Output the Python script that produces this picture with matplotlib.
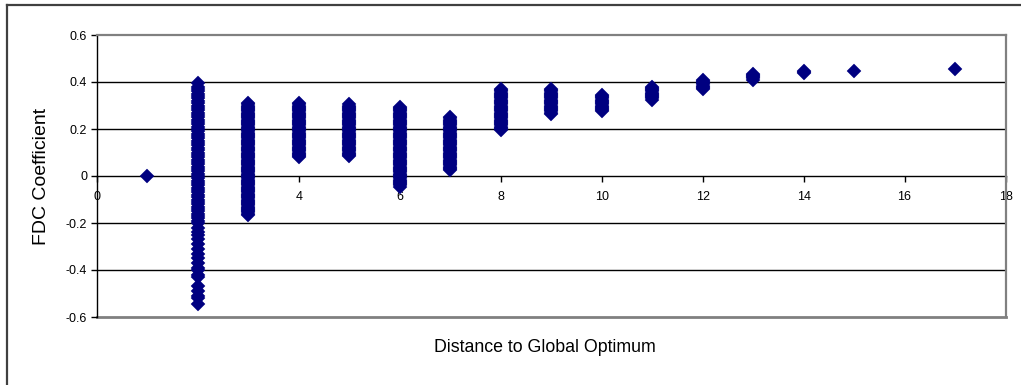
import matplotlib
matplotlib.use("Agg")
import matplotlib.pyplot as plt
from matplotlib.lines import Line2D

plt.rcParams['font.family'] = ['Liberation Sans', 'DejaVu Sans']

# FDC coefficient values grouped by distance to the global optimum
dist_1 = [0.0]
dist_2 = [0.395, 0.38, 0.37, 0.36, 0.35, 0.34, 0.33, 0.32, 0.31, 0.30, 0.29, 0.28,
          0.27, 0.26, 0.25, 0.24, 0.23, 0.22, 0.21, 0.20, 0.19, 0.18, 0.17, 0.16,
          0.15, 0.14, 0.13, 0.12, 0.11, 0.10, 0.09, 0.08, 0.07, 0.06, 0.05, 0.04,
          0.03, 0.02, 0.01, 0.00, -0.01, -0.02, -0.03, -0.04, -0.05, -0.06, -0.07,
          -0.08, -0.09, -0.10, -0.11, -0.12, -0.13, -0.14, -0.15, -0.16, -0.17,
          -0.18, -0.19, -0.20, -0.22, -0.24, -0.25, -0.27, -0.29, -0.31, -0.33,
          -0.35, -0.37, -0.39, -0.40, -0.42, -0.43, -0.47, -0.49, -0.51, -0.52,
          -0.545]
dist_3 = [0.31, 0.305, 0.30, 0.295, 0.29, 0.285, 0.28, 0.275, 0.27, 0.265, 0.26,
          0.255, 0.25, 0.245, 0.24, 0.235, 0.23, 0.225, 0.22, 0.215, 0.21, 0.205,
          0.20, 0.195, 0.19, 0.185, 0.18, 0.175, 0.17, 0.165, 0.16, 0.155, 0.15,
          0.145, 0.14, 0.135, 0.13, 0.125, 0.12, 0.115, 0.11, 0.105, 0.10, 0.095,
          0.09, 0.085, 0.08, 0.075, 0.07, 0.065, 0.06, 0.055, 0.05, 0.045, 0.04,
          0.035, 0.03, 0.025, 0.02, 0.015, 0.01, 0.005, 0.0, -0.005, -0.01, -0.015,
          -0.02, -0.025, -0.03, -0.035, -0.04, -0.045, -0.05, -0.055, -0.06,
          -0.065, -0.07, -0.075, -0.08, -0.085, -0.09, -0.095, -0.10, -0.105,
          -0.11, -0.115, -0.12, -0.125, -0.13, -0.135, -0.14, -0.145, -0.15,
          -0.155, -0.16, -0.165]
dist_4 = [0.31, 0.305, 0.30, 0.295, 0.29, 0.285, 0.28, 0.275, 0.27, 0.265, 0.26,
          0.255, 0.25, 0.245, 0.24, 0.235, 0.23, 0.225, 0.22, 0.215, 0.21, 0.205,
          0.20, 0.195, 0.19, 0.185, 0.18, 0.175, 0.17, 0.165, 0.16, 0.155, 0.15,
          0.145, 0.14, 0.135, 0.13, 0.125, 0.12, 0.115, 0.11, 0.105, 0.10, 0.095,
          0.09, 0.085, 0.08]
dist_5 = [0.305, 0.30, 0.295, 0.29, 0.285, 0.28, 0.275, 0.27, 0.265, 0.26, 0.255,
          0.25, 0.245, 0.24, 0.235, 0.23, 0.225, 0.22, 0.215, 0.21, 0.205, 0.20,
          0.195, 0.19, 0.185, 0.18, 0.175, 0.17, 0.165, 0.16, 0.155, 0.15, 0.145,
          0.14, 0.135, 0.13, 0.125, 0.12, 0.115, 0.11, 0.105, 0.10, 0.095, 0.09,
          0.085]
dist_6 = [0.295, 0.29, 0.285, 0.28, 0.275, 0.27, 0.265, 0.26, 0.255, 0.25, 0.245,
          0.24, 0.235, 0.23, 0.225, 0.22, 0.215, 0.21, 0.205, 0.20, 0.195, 0.19,
          0.185, 0.18, 0.175, 0.17, 0.165, 0.16, 0.155, 0.15, 0.145, 0.14, 0.135,
          0.13, 0.125, 0.12, 0.115, 0.11, 0.105, 0.10, 0.095, 0.09, 0.085, 0.08,
          0.075, 0.07, 0.065, 0.06, 0.055, 0.05, 0.045, 0.04, 0.035, 0.03, 0.025,
          0.02, 0.015, 0.01, 0.005, 0.0, -0.005, -0.01, -0.015, -0.02, -0.025,
          -0.03, -0.035, -0.04, -0.045]
dist_7 = [0.25, 0.245, 0.24, 0.235, 0.23, 0.225, 0.22, 0.215, 0.21, 0.205, 0.20,
          0.195, 0.19, 0.185, 0.18, 0.175, 0.17, 0.165, 0.16, 0.155, 0.15, 0.145,
          0.14, 0.135, 0.13, 0.125, 0.12, 0.115, 0.11, 0.105, 0.10, 0.095, 0.09,
          0.085, 0.08, 0.075, 0.07, 0.065, 0.06, 0.055, 0.05, 0.045, 0.04, 0.035,
          0.03, 0.025]
dist_8 = [0.372, 0.365, 0.36, 0.355, 0.35, 0.345, 0.34, 0.335, 0.33, 0.325, 0.32,
          0.315, 0.31, 0.305, 0.30, 0.295, 0.29, 0.285, 0.28, 0.275, 0.27, 0.265,
          0.26, 0.255, 0.25, 0.245, 0.24, 0.235, 0.23, 0.225, 0.22, 0.215, 0.21,
          0.205, 0.20, 0.196]
dist_9 = [0.37, 0.365, 0.36, 0.355, 0.35, 0.345, 0.34, 0.335, 0.33, 0.325, 0.32,
          0.315, 0.31, 0.305, 0.30, 0.295, 0.29, 0.285, 0.28, 0.275, 0.27, 0.265]
dist_10 = [0.343, 0.34, 0.335, 0.33, 0.325, 0.32, 0.315, 0.31, 0.305, 0.30, 0.295,
           0.29, 0.285, 0.28, 0.278]
dist_11 = [0.38, 0.375, 0.37, 0.365, 0.36, 0.355, 0.35, 0.345, 0.34, 0.335, 0.33,
           0.325]
dist_12 = [0.41, 0.405, 0.40, 0.395, 0.39, 0.385, 0.38, 0.375, 0.372]
dist_13 = [0.435, 0.43, 0.425, 0.42, 0.415, 0.41]
dist_14 = [0.446, 0.442, 0.438]
dist_15 = [0.446]
dist_17 = [0.457]

distances = [1, 2, 3, 4, 5, 6, 7, 8, 9, 10, 11, 12, 13, 14, 15, 17]
fdc_values = [dist_1, dist_2, dist_3, dist_4, dist_5, dist_6, dist_7, dist_8,
              dist_9, dist_10, dist_11, dist_12, dist_13, dist_14, dist_15, dist_17]

x_ticks = [0, 2, 4, 6, 8, 10, 12, 14, 16, 18]
y_ticks = [-0.6, -0.4, -0.2, 0, 0.2, 0.4, 0.6]
y_tick_labels = ['-0.6', '-0.4', '-0.2', '0', '0.2', '0.4', '0.6']

W, H = 1021, 385
fig = plt.figure(figsize=(W / 100, H / 100), dpi=100)
ax = fig.add_axes([97 / W, 1 - 317 / H, (1005.5 - 97) / W, (317 - 35) / H])

xs, ys = [], []
for d, vals in zip(distances, fdc_values):
    xs.extend([d] * len(vals))
    ys.extend(vals)
ax.plot(xs, ys, linestyle='none', marker='D', markersize=7.2,
        color='#000080', markeredgecolor='#000080', markeredgewidth=0.3,
        zorder=3, clip_on=False)

ax.set_xlim(0, 18)
ax.set_ylim(-0.6, 0.6)

# horizontal gridlines
for y in [-0.4, -0.2, 0.2, 0.4]:
    ax.axhline(y, color='black', linewidth=1.0, zorder=1)

# plot-area frame
for side in ['top', 'right']:
    ax.spines[side].set_color('#808080')
    ax.spines[side].set_linewidth(1.6)
ax.axhline(-0.6, color='#808080', linewidth=2.0, zorder=1, clip_on=False)
ax.spines['left'].set_color('black')
ax.spines['left'].set_linewidth(1.0)
ax.spines['left'].set_zorder(2)
ax.spines['bottom'].set_position(('data', 0))
ax.spines['bottom'].set_color('black')
ax.spines['bottom'].set_linewidth(1.0)
ax.spines['bottom'].set_zorder(2)

ax.set_xticks(x_ticks)
ax.set_xticklabels([str(t) for t in x_ticks])
ax.set_yticks(y_ticks)
ax.set_yticklabels(y_tick_labels)
ax.tick_params(axis='x', direction='out', length=4, width=1, pad=7,
               labelsize=9, colors='black')
ax.tick_params(axis='y', direction='out', length=4, width=1, pad=3,
               labelsize=9, colors='black')
for lbl in ax.get_xticklabels():
    lbl.set_zorder(4)

fig.text(545 / W, 1 - 348 / H, 'Distance to Global Optimum', ha='center',
         va='center', fontsize=12.8)
fig.text(41 / W, 1 - 176 / H, 'FDC Coefficient', ha='center', va='center',
         rotation=90, fontsize=14)

# chart border (left and top edges)
fig.add_artist(Line2D([7 / W, 7 / W], [0, 1 - 5 / H], transform=fig.transFigure,
                      color='#404040', linewidth=1.6))
fig.add_artist(Line2D([7 / W, 1], [1 - 5 / H, 1 - 5 / H], transform=fig.transFigure,
                      color='#404040', linewidth=1.6))

fig.savefig('out.png', dpi=100)
